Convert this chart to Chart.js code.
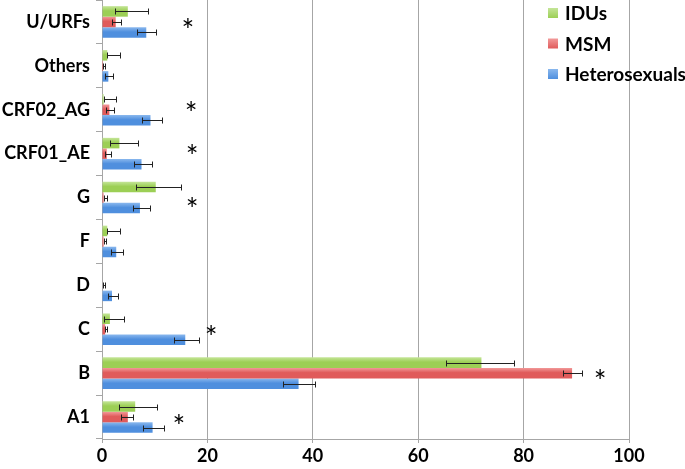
<!DOCTYPE html>
<html><head><meta charset="utf-8">
<script src="https://cdn.jsdelivr.net/npm/chart.js@4/dist/chart.umd.min.js"></script>
<style>html,body{margin:0;padding:0;background:#fff}#wrap{width:685px;height:469px}</style>
</head><body><div id="wrap"><canvas id="c"></canvas></div>
<script>
const categories = ['U/URFs','Others','CRF02_AG','CRF01_AE','G','F','D','C','B','A1'];
const seriesNames = ['IDUs','MSM','Heterosexuals'];
const idus   = [4.9, 1.0, 0.3, 3.3, 10.2, 1.0, 0.0, 1.5, 72.0, 6.3];
const idusLo = [2.5, 1.0, 0.3, 1.5, 6.5, 1.0, 0.0, 0.3, 65.3, 3.3];
const idusHi = [8.7, 3.4, 2.7, 6.8, 15.0, 3.4, 0.0, 4.2, 78.1, 10.5];
const msm    = [2.6, 0.2, 1.4, 0.9, 0.3, 0.3, 0.1, 0.6, 89.2, 4.9];
const msmLo  = [1.9, 0.2, 0.8, 0.5, 0.3, 0.3, 0.1, 0.6, 87.4, 3.7];
const msmHi  = [3.6, 0.6, 2.3, 1.8, 0.9, 0.8, 0.6, 1.0, 91.0, 5.8];
const het    = [8.4, 1.2, 9.2, 7.5, 7.2, 2.7, 1.9, 15.8, 37.3, 9.6];
const hetLo  = [6.7, 0.6, 7.6, 6.0, 5.8, 1.8, 1.2, 13.6, 34.3, 7.7];
const hetHi  = [10.3, 2.0, 11.3, 9.4, 9.1, 4.0, 3.0, 18.4, 40.4, 11.7];
const xTicks = [0, 20, 40, 60, 80, 100];
const starCategories = ['U/URFs','CRF02_AG','CRF01_AE','G','C','B','A1'];
const starX = [16.3, 16.9, 17.1, 17.1, 20.7, 94.5, 14.6];
const starCatShift = [0, -0.11, -0.11, 0.09, 0, 0, 0.04];

const colors = ['#9ccf55', '#e05b5b', '#4f8fde'];
const lightColors = ['#c4e598', '#f29a9a', '#8ab8ee'];
const lows = [idusLo, msmLo, hetLo];
const highs = [idusHi, msmHi, hetHi];
const FONT = 'Lato, "Open Sans", sans-serif';
const CAT_PCT = 0.72;

function barFill(di) {
  return (c) => {
    const ys = c.chart.scales && c.chart.scales.y;
    if (!ys || ys.getPixelForValue(1) === ys.getPixelForValue(0)) return colors[di];
    const step = ys.getPixelForValue(1) - ys.getPixelForValue(0);
    const bh = step * CAT_PCT / 3;
    const top = ys.getPixelForValue(c.dataIndex) - 1.5 * bh + di * bh;
    if (!isFinite(top)) return colors[di];
    const g = c.chart.ctx.createLinearGradient(0, top, 0, top + bh);
    g.addColorStop(0, lightColors[di]);
    g.addColorStop(0.45, colors[di]);
    g.addColorStop(1, colors[di]);
    return g;
  };
}

const errorBars = {
  id: 'errorBars',
  afterDatasetsDraw(chart) {
    const ctx = chart.ctx, xs = chart.scales.x;
    ctx.save();
    ctx.strokeStyle = '#222';
    ctx.lineWidth = 1;
    chart.data.datasets.forEach((ds, di) => {
      const meta = chart.getDatasetMeta(di);
      meta.data.forEach((bar, i) => {
        const lo = lows[di][i], hi = highs[di][i];
        if (hi <= lo) return;
        const y = Math.round(bar.y) + 0.5;
        const x1 = Math.round(xs.getPixelForValue(lo)) + 0.5;
        const x2 = Math.round(xs.getPixelForValue(hi)) + 0.5;
        ctx.beginPath();
        ctx.moveTo(x1, y); ctx.lineTo(x2, y);
        ctx.moveTo(x1, y - 3); ctx.lineTo(x1, y + 3);
        ctx.moveTo(x2, y - 3); ctx.lineTo(x2, y + 3);
        ctx.stroke();
      });
    });
    ctx.restore();
  }
};

const stars = {
  id: 'stars',
  afterDatasetsDraw(chart) {
    const ctx = chart.ctx, xs = chart.scales.x, ys = chart.scales.y;
    ctx.save();
    ctx.fillStyle = '#000';
    ctx.font = '30px ' + FONT;
    ctx.textAlign = 'center';
    ctx.textBaseline = 'middle';
    starCategories.forEach((c, k) => {
      const y = ys.getPixelForValue(categories.indexOf(c) + starCatShift[k]);
      ctx.fillText('*', xs.getPixelForValue(starX[k]), y + 9);
    });
    ctx.restore();
  }
};

const legendBox = {
  id: 'legendBox',
  afterDraw(chart) {
    const ctx = chart.ctx;
    ctx.save();
    ctx.font = 'bold 19px ' + FONT;
    ctx.textBaseline = 'middle';
    seriesNames.forEach((n, i) => {
      const y = 13 + i * 30.5;
      const g = ctx.createLinearGradient(0, y - 5, 0, y + 5);
      g.addColorStop(0, lightColors[i]);
      g.addColorStop(1, colors[i]);
      ctx.fillStyle = g;
      ctx.fillRect(548, y - 5, 10, 10);
      ctx.fillStyle = '#000';
      ctx.fillText(n, 565, y + 1);
    });
    ctx.restore();
  }
};

new Chart(document.getElementById('c'), {
  type: 'bar',
  data: {
    labels: categories,
    datasets: [
      { label: seriesNames[0], data: idus, backgroundColor: barFill(0) },
      { label: seriesNames[1], data: msm, backgroundColor: barFill(1) },
      { label: seriesNames[2], data: het, backgroundColor: barFill(2) }
    ]
  },
  options: {
    indexAxis: 'y',
    responsive: true,
    maintainAspectRatio: false,
    animation: false,
    layout: { padding: { left: 0, right: 56, top: 0, bottom: 0 } },
    datasets: { bar: { categoryPercentage: CAT_PCT, barPercentage: 1.0 } },
    plugins: { legend: { display: false }, tooltip: { enabled: false } },
    scales: {
      x: {
        min: 0, max: 100,
        afterBuildTicks(s) { s.ticks = xTicks.map(v => ({ value: v })); },
        afterFit(s) { s.height = 30; s.paddingLeft = 0; s.paddingRight = 0; },
        grid: { color: '#a6a6a6', lineWidth: 1, tickLength: 4, drawTicks: true },
        border: { display: true, color: '#a6a6a6' },
        ticks: { color: '#000', font: { family: FONT, size: 18, weight: 'bold' }, padding: 2, maxRotation: 0 }
      },
      y: {
        afterFit(s) { s.width = 102; s.paddingTop = 0; s.paddingBottom = 0; },
        grid: { offset: true, drawOnChartArea: false, color: '#a6a6a6', tickLength: 6 },
        border: { display: true, color: '#a6a6a6' },
        ticks: { color: '#000', font: { family: FONT, size: 18, weight: 'bold' }, padding: 6 }
      }
    }
  },
  plugins: [errorBars, stars, legendBox]
});
</script>
</body></html>
